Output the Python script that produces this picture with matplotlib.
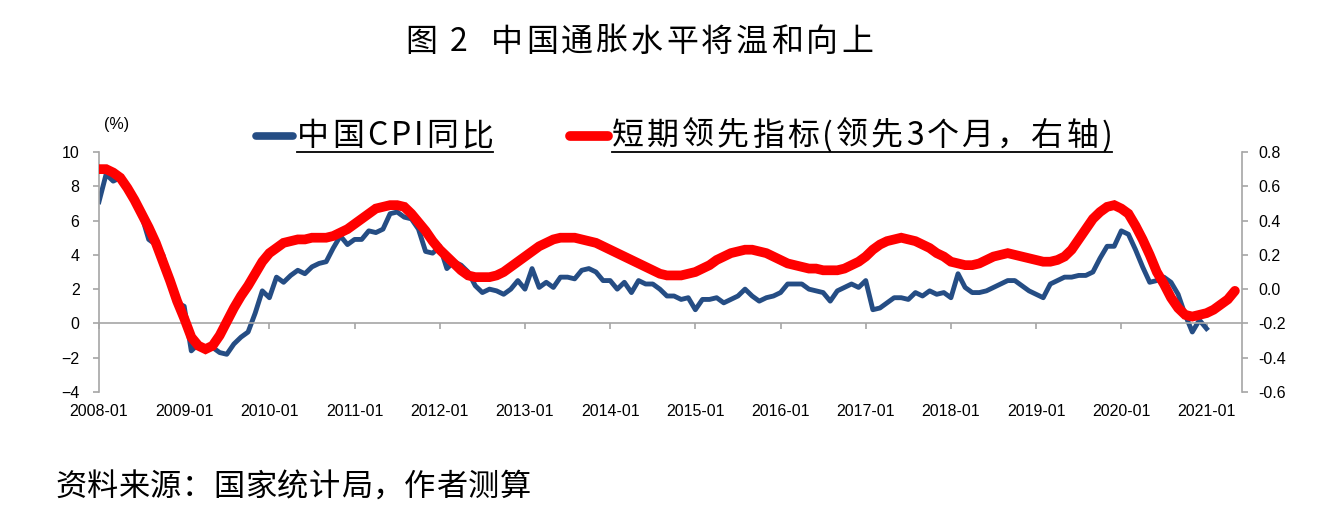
import numpy as np
import matplotlib
matplotlib.use('Agg')
import matplotlib.pyplot as plt
from matplotlib.lines import Line2D
from matplotlib.ticker import FormatStrFormatter
from matplotlib.font_manager import FontProperties

# ----- data (monthly, starting 2008-01)
cpi_yoy = [
    7.1, 8.7, 8.3, 8.5, 7.7, 7.1, 6.3, 4.9, 4.6, 4.0, 2.4, 1.2,
    1.0, -1.6, -1.2, -1.5, -1.4, -1.7, -1.8, -1.2, -0.8, -0.5, 0.6, 1.9,
    1.5, 2.7, 2.4, 2.8, 3.1, 2.9, 3.3, 3.5, 3.6, 4.4, 5.1, 4.6,
    4.9, 4.9, 5.4, 5.3, 5.5, 6.4, 6.5, 6.2, 6.1, 5.5, 4.2, 4.1,
    4.5, 3.2, 3.6, 3.4, 3.0, 2.2, 1.8, 2.0, 1.9, 1.7, 2.0, 2.5,
    2.0, 3.2, 2.1, 2.4, 2.1, 2.7, 2.7, 2.6, 3.1, 3.2, 3.0, 2.5,
    2.5, 2.0, 2.4, 1.8, 2.5, 2.3, 2.3, 2.0, 1.6, 1.6, 1.4, 1.5,
    0.8, 1.4, 1.4, 1.5, 1.2, 1.4, 1.6, 2.0, 1.6, 1.3, 1.5, 1.6,
    1.8, 2.3, 2.3, 2.3, 2.0, 1.9, 1.8, 1.3, 1.9, 2.1, 2.3, 2.1,
    2.5, 0.8, 0.9, 1.2, 1.5, 1.5, 1.4, 1.8, 1.6, 1.9, 1.7, 1.8,
    1.5, 2.9, 2.1, 1.8, 1.8, 1.9, 2.1, 2.3, 2.5, 2.5, 2.2, 1.9,
    1.7, 1.5, 2.3, 2.5, 2.7, 2.7, 2.8, 2.8, 3.0, 3.8, 4.5, 4.5,
    5.4, 5.2, 4.3, 3.3, 2.4, 2.5, 2.7, 2.4, 1.7, 0.5, -0.5, 0.2,
    -0.3,
]

# short-term leading indicator, shifted 3 months ahead (right axis)
lead_indicator = [
    0.70, 0.70, 0.68, 0.65, 0.59, 0.52, 0.44, 0.36, 0.27, 0.16, 0.05, -0.07,
    -0.17, -0.28, -0.33, -0.35, -0.33, -0.27, -0.19, -0.11, -0.04, 0.02, 0.09, 0.16,
    0.21, 0.24, 0.27, 0.28, 0.29, 0.29, 0.30, 0.30, 0.30, 0.31, 0.33, 0.35,
    0.38, 0.41, 0.44, 0.47, 0.48, 0.49, 0.49, 0.48, 0.44, 0.39, 0.34, 0.28,
    0.23, 0.19, 0.15, 0.11, 0.08, 0.07, 0.07, 0.07, 0.08, 0.10, 0.13, 0.16,
    0.19, 0.22, 0.25, 0.27, 0.29, 0.30, 0.30, 0.30, 0.29, 0.28, 0.27, 0.25,
    0.23, 0.21, 0.19, 0.17, 0.15, 0.13, 0.11, 0.09, 0.08, 0.08, 0.08, 0.09,
    0.10, 0.12, 0.14, 0.17, 0.19, 0.21, 0.22, 0.23, 0.23, 0.22, 0.21, 0.19,
    0.17, 0.15, 0.14, 0.13, 0.12, 0.12, 0.11, 0.11, 0.11, 0.12, 0.14, 0.16,
    0.19, 0.23, 0.26, 0.28, 0.29, 0.30, 0.29, 0.28, 0.26, 0.24, 0.21, 0.19,
    0.16, 0.15, 0.14, 0.14, 0.15, 0.17, 0.19, 0.20, 0.21, 0.20, 0.19, 0.18,
    0.17, 0.16, 0.16, 0.17, 0.19, 0.23, 0.29, 0.35, 0.41, 0.45, 0.48, 0.49,
    0.47, 0.44, 0.37, 0.29, 0.20, 0.10, 0.03, -0.05, -0.11, -0.15, -0.16, -0.15,
    -0.14, -0.12, -0.09, -0.06, -0.01,
]

year_labels = ['%d-01' % y for y in range(2008, 2022)]

title_text = '图 2  中国通胀水平将温和向上'
cpi_label = '中国CPI同比'
lead_label = '短期领先指标(领先3个月，右轴)'
source_text = '资料来源：国家统计局，作者测算'

BLUE = '#254D84'
RED = '#FF0000'
GRAY = '#A6A6A6'
CJK = ['Noto Sans CJK SC', 'DejaVu Sans']

plt.rcParams['font.family'] = ['Liberation Sans', 'DejaVu Sans']

W, H = 1326, 520
fig = plt.figure(figsize=(W / 100, H / 100), dpi=100)
ax = fig.add_axes([99 / W, 1 - 392 / H, (1242 - 99) / W, 240 / H])
renderer = fig.canvas.get_renderer()


def spaced_text(x_px, y_px, s, size, tracking):
    """Draw s from pixel x_px with extra letter spacing; returns end pixel."""
    prop = FontProperties(family=CJK, size=size)
    x = x_px
    for ch in s:
        w, _, _ = renderer.get_text_width_height_descent(ch, prop, ismath=False)
        if ch.strip():
            fig.text(x / W, 1 - y_px / H, ch, ha='left', va='center',
                     fontsize=size, family=CJK)
        x += w + tracking
    return x - tracking


# ----- left axis: CPI
ax.plot(np.arange(len(cpi_yoy)), cpi_yoy, color=BLUE, lw=3.5)
ax.set_xlim(0, 161)
ax.set_ylim(-4, 10)
ax.set_yticks(range(-4, 11, 2))
ax.spines['top'].set_visible(False)
ax.spines['right'].set_visible(False)
ax.spines['left'].set_color(GRAY)
ax.spines['left'].set_linewidth(1.2)
ax.spines['bottom'].set_position(('data', 0))
ax.spines['bottom'].set_color(GRAY)
ax.spines['bottom'].set_linewidth(1.2)
ax.tick_params(axis='y', direction='out', length=4, width=1.2, color=GRAY,
               labelsize=11.5, pad=10)
year_ticks = np.arange(0, len(year_labels) * 12, 12)
ax.set_xticks(year_ticks)
ax.tick_params(axis='x', direction='out', length=4, width=1.2, color=GRAY,
               labelbottom=False)
for pos, lab in zip(year_ticks, year_labels):
    ax.text(pos, -0.083, lab, transform=ax.get_xaxis_transform(),
            ha='center', va='center', fontsize=11.5)

# ----- right axis: leading indicator
ax2 = ax.twinx()
ax2.plot(np.arange(len(lead_indicator)), lead_indicator, color=RED, lw=7,
         solid_capstyle='round', solid_joinstyle='miter')
ax2.set_ylim(-0.6, 0.8)
ax2.set_yticks(np.linspace(-0.6, 0.8, 8))
ax2.yaxis.set_major_formatter(FormatStrFormatter('%.1f'))
for s in ['top', 'bottom', 'left']:
    ax2.spines[s].set_visible(False)
ax2.spines['right'].set_color(GRAY)
ax2.spines['right'].set_linewidth(1.2)
ax2.tick_params(axis='y', direction='out', length=4, width=1.2, color=GRAY,
                labelsize=11.5, pad=8)

# ----- texts
fig.text(117 / W, 1 - 125 / H, '(%)', ha='center', va='center', fontsize=11.5)
spaced_text(405, 42, title_text, 23, 3)
spaced_text(55, 487, source_text, 22.5, 0.5)

# ----- legend (manual, underlined labels as in the original)
leg_y = 1 - 136 / H
fig.add_artist(Line2D([256 / W, 293 / W], [leg_y, leg_y], color=BLUE, lw=5.5,
                      solid_capstyle='round', transform=fig.transFigure))
fig.add_artist(Line2D([570 / W, 608 / W], [leg_y, leg_y], color=RED, lw=7,
                      solid_capstyle='round', transform=fig.transFigure))
uy = 1 - 152 / H
for x0, label in [(297, cpi_label), (612, lead_label)]:
    x1 = spaced_text(x0, 136, label, 23, 3)
    fig.add_artist(Line2D([x0 / W, x1 / W], [uy, uy], color='black', lw=1.3,
                          transform=fig.transFigure))

fig.savefig('out.png', dpi=100, facecolor='white')
